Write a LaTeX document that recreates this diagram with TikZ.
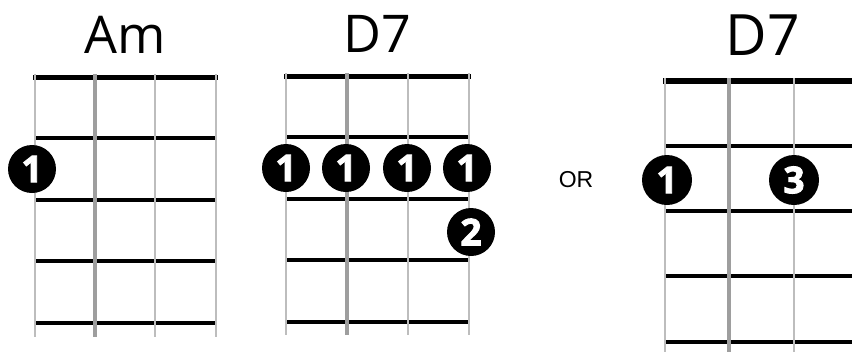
\documentclass[tikz,border=0pt]{standalone}
\usepackage{fontspec}
\setmainfont{Open Sans}
\newfontfamily\dotfont[BoldFont={Open Sans Bold}, BoldFeatures={FakeBold=2.5}]{Open Sans}
\newfontfamily\orfont{Liberation Sans}
\usepackage{tikz}
\usetikzlibrary{positioning, calc}
\definecolor{stringgray}{HTML}{BDBDBD}
\definecolor{bassgray}{HTML}{9E9E9E}

\tikzset{
  fretline/.style={line width=3.5pt, black},
  nutline/.style={line width=5pt, black},
  thinstring/.style={line width=2pt, stringgray},
  thickstring/.style={line width=4.5pt, bassgray},
  fingerdot/.style={circle, fill=black, text=white, inner sep=0pt, minimum size=48pt, font=\dotfont\bfseries\fontsize{37}{37}\selectfont},
  chordname/.style={anchor=base, font=\fontsize{52}{52}\selectfont}
}

\begin{document}
\begin{tikzpicture}[x=1pt, y=-1pt]
  \fill[white] (0,0) rectangle (852,351);
  \clip (0,0) rectangle (852,351);

  % Am
  \node[chordname] (amName) at (125.5,53) {Am};
  \foreach \y in {138,200,261,323}
    \draw[fretline] (35,\y) -- (216,\y);
  \draw[nutline] (33,77) -- (218,77);
  \foreach \x in {35,155,216}
    \draw[thinstring] (\x,74) -- (\x,337);
  \draw[thickstring] (95,74) -- (95,337);
  \node[fingerdot] (amOne) at (32,169) {1};

  % D7, barre
  \node[chordname] (dName) at (377.5,52) {D7};
  \foreach \y in {137,199,260,322}
    \draw[fretline] (286,\y) -- (469,\y);
  \draw[nutline] (284,76) -- (471,76);
  \foreach \x in {286,408,469}
    \draw[thinstring] (\x,73) -- (\x,335);
  \draw[thickstring] (347,73) -- (347,335);
  \node[fingerdot] (dOneA) at (286,168) {1};
  \node[fingerdot] (dOneB) at (346,168) {1};
  \node[fingerdot] (dOneC) at (407,168) {1};
  \node[fingerdot] (dOneD) at (467,168) {1};
  \node[fingerdot] (dTwo) at (471,232) {2};

  \node[font=\orfont\fontsize{23}{23}\selectfont] (orText) at (576,180) {OR};

  % D7, second shape
  \node[chordname, font=\fontsize{57}{57}\selectfont] (dAltName) at (763,55) {D7};
  \foreach \y in {146,211,276,342}
    \draw[fretline, line width=3.8pt] (665,\y) -- (870,\y);
  \draw[nutline, line width=5.5pt] (663,81) -- (870,81);
  \foreach \x in {665,794,858}
    \draw[thinstring, line width=2.2pt] (\x,78) -- (\x,360);
  \draw[thickstring, line width=4.8pt] (729,78) -- (729,360);
  \node[fingerdot, minimum size=50pt] (dAltOne) at (667,180) {1};
  \node[fingerdot, minimum size=50pt] (dAltThree) at (794,180) {3};
\end{tikzpicture}
\end{document}
